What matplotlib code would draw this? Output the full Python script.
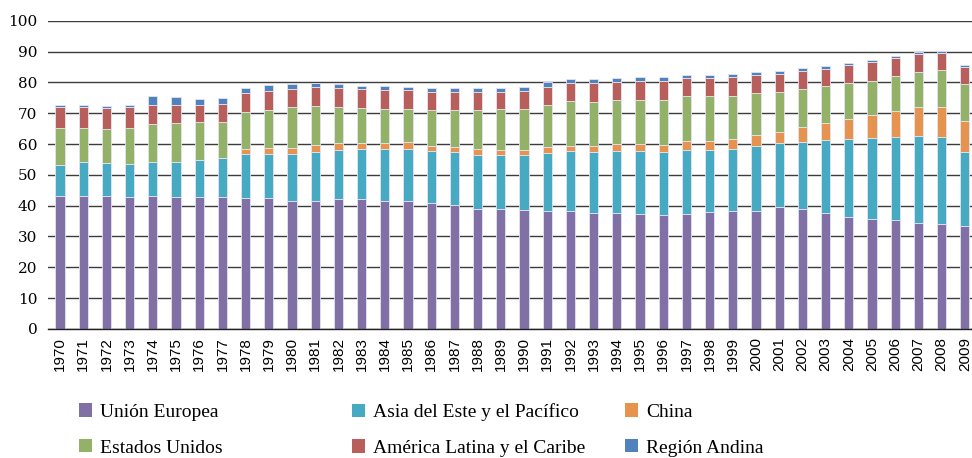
import numpy as np
import matplotlib
matplotlib.use("Agg")
from matplotlib import pyplot as plt
from matplotlib.patches import Patch

# años y participaciones (%)
years = list(range(1970, 2010))

union_europea = [43.2, 43.2, 43.0, 42.9, 43.2, 42.7, 42.7, 42.7, 42.5, 42.5,
                 41.4, 41.4, 42.1, 42.1, 41.4, 41.6, 41.0, 40.2, 39.0, 39.0,
                 38.7, 38.4, 38.2, 37.5, 37.5, 37.4, 36.9, 37.4, 38.1, 38.2,
                 38.2, 39.5, 38.8, 37.5, 36.2, 35.6, 35.2, 34.5, 33.9, 33.5]
asia_pacifico = [10.1, 11.0, 10.7, 10.5, 11.1, 11.6, 12.2, 12.9, 14.4, 14.4,
                 15.5, 16.1, 16.1, 16.4, 17.1, 16.9, 16.7, 17.1, 17.5, 17.5,
                 17.6, 18.7, 19.5, 20.0, 20.2, 20.4, 20.6, 20.7, 20.1, 20.2,
                 21.3, 20.7, 22.0, 23.7, 25.3, 26.2, 27.2, 28.1, 28.5, 23.8]
china = [0.0, 0.0, 0.0, 0.0, 0.0, 0.0, 0.0, 0.0, 1.5, 1.9,
         1.9, 2.1, 2.0, 1.9, 1.9, 2.1, 1.8, 1.8, 1.8, 1.6,
         1.6, 1.8, 1.8, 2.0, 2.3, 2.3, 2.3, 2.8, 2.8, 3.1,
         3.3, 3.8, 4.8, 5.7, 6.6, 7.5, 8.4, 9.3, 9.7, 10.1]
estados_unidos = [11.9, 11.1, 11.2, 11.9, 12.1, 12.4, 12.1, 11.5, 12.1, 12.2,
                  13.2, 12.7, 11.9, 11.3, 11.0, 10.8, 11.5, 11.9, 12.7, 13.3,
                  13.5, 13.7, 14.4, 14.1, 14.3, 14.3, 14.6, 14.6, 14.5, 14.2,
                  13.7, 12.8, 12.2, 11.9, 11.7, 11.3, 11.4, 11.6, 11.9, 12.0]
america_latina = [6.7, 6.6, 6.9, 6.8, 6.4, 6.1, 5.8, 5.9, 6.0, 6.3,
                  5.8, 6.1, 6.0, 6.0, 6.0, 6.0, 6.0, 6.0, 6.0, 5.6,
                  5.9, 6.0, 6.0, 6.1, 5.9, 6.1, 6.2, 5.8, 6.0, 5.9,
                  6.0, 6.0, 6.0, 5.6, 5.7, 5.9, 5.6, 5.6, 5.6, 5.5]
region_andina = [0.7, 0.7, 0.5, 0.6, 2.7, 2.3, 1.9, 1.9, 1.8, 1.9,
                 1.6, 1.4, 1.3, 1.2, 1.4, 1.2, 1.2, 1.1, 1.1, 1.2,
                 1.1, 1.4, 1.1, 1.3, 1.3, 1.2, 1.3, 1.1, 0.9, 1.0,
                 0.9, 0.9, 0.7, 0.8, 0.9, 0.6, 0.6, 0.6, 0.7, 0.6]

series = [
    ("Unión Europea", union_europea, "#8070A6"),
    ("Asia del Este y el Pacífico", asia_pacifico, "#46AAC2"),
    ("China", china, "#E5934F"),
    ("Estados Unidos", estados_unidos, "#93B267"),
    ("América Latina y el Caribe", america_latina, "#B85E5B"),
    ("Región Andina", region_andina, "#5083BD"),
]

fig = plt.figure(figsize=(9.72, 4.58), dpi=100)
ax = fig.add_axes([0.0498, 0.2817, 0.9547, 0.6731])

x = np.arange(len(years))
bottom = np.zeros(len(years))
for name, vals, col in series:
    vals = np.array(vals)
    ax.bar(x, vals, 0.4, bottom=bottom, color=col, edgecolor="#e4e4f0",
           linewidth=0.6, label=name)
    bottom += vals

ax.set_xlim(-0.5, len(years) - 0.5)
ax.set_ylim(0, 100)
ax.set_yticks(range(0, 101, 10))
ax.set_xticks(x)
ax.set_xticklabels([str(y) for y in years], rotation=90, fontsize=11,
                   family="Liberation Sans")
for lab in ax.get_yticklabels():
    lab.set_family("DejaVu Serif")
    lab.set_fontsize(11)
ax.tick_params(axis="y", length=0, pad=8)
ax.tick_params(axis="x", length=0, pad=6)

ax.set_axisbelow(True)
ax.grid(axis="y", color="#3c3c3c", linewidth=1.0)
for s in ["top", "right", "left"]:
    ax.spines[s].set_visible(False)
ax.spines["bottom"].set_color("#202020")
ax.spines["bottom"].set_linewidth(1.0)

# leyenda en tres columnas, dos filas
cols_x = [79, 352, 625]
for i, cx in enumerate(cols_x):
    items = [series[i], series[i + 3]]
    handles = [Patch(facecolor=c, edgecolor="none") for _, _, c in items]
    fig.legend(handles, [n for n, _, _ in items], loc="center left",
               bbox_to_anchor=(cx / 972, 1 - 430 / 458), frameon=False,
               prop={"family": "Liberation Serif", "size": 14},
               handlelength=0.67, handleheight=0.67, handletextpad=0.41,
               labelspacing=0.95, borderpad=0, borderaxespad=0)

fig.savefig("out.png", dpi=100)
